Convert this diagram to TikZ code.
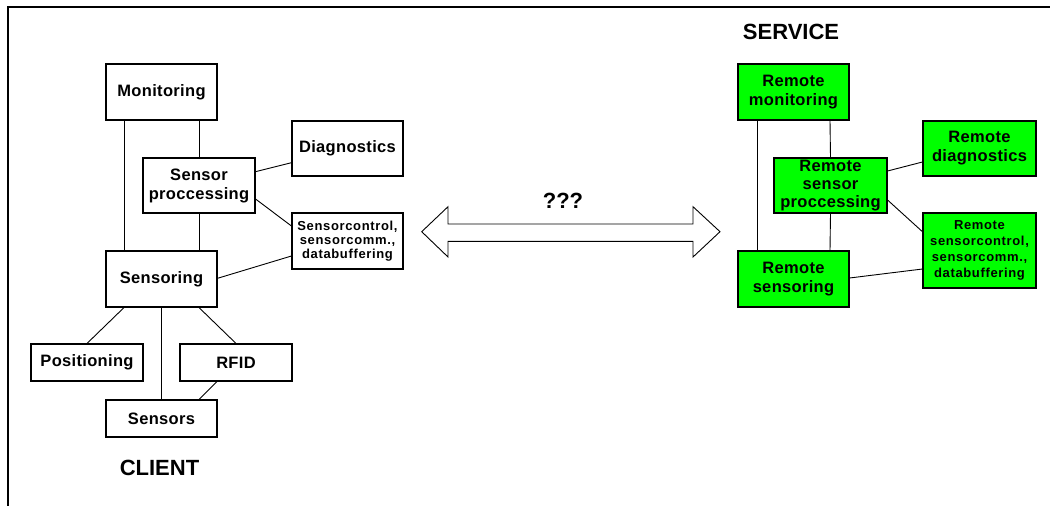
\documentclass[tikz,border=0pt]{standalone}
\usepackage{fontspec}
\setmainfont{Liberation Sans}
\definecolor{boxgreen}{RGB}{0,255,0}
\newcommand{\boxfont}{\bfseries\fontsize{16.5}{19}\selectfont\addfontfeatures{LetterSpace=2}}
\newcommand{\notefont}{\bfseries\fontsize{13}{13.8}\selectfont\addfontfeatures{LetterSpace=5}}
\begin{document}
\begin{tikzpicture}[x=1pt,y=-1pt,
  box/.style={draw=black, line width=1.1pt, fill=white, align=center, inner sep=0pt,
    minimum width=111pt, minimum height=56pt, font=\boxfont},
  smallbox/.style={box, minimum height=37pt},
  tinytext/.style={font=\notefont},
  remote/.style={box, fill=boxgreen},
  link/.style={draw=black, line width=0.9pt},
  title/.style={font=\bfseries\fontsize{22}{26}\selectfont, inner sep=0pt}
]
\useasboundingbox (0,0) rectangle (1050,506);
\fill[white] (0,0) rectangle (1050,506);

% outer frame, open towards the right and the bottom
\draw[line width=2.2pt] (8,515) -- (8,7) -- (1060,7);

% ---------------- client side ----------------
\node[box] (mon)  at (161.5,92)    {Monitoring};
\node[box, minimum width=112pt, minimum height=55pt] (sp) at (199,185.5) {Sensor\\proccessing};
\node[box, minimum height=55pt] (diag) at (347.5,148.5) {Diagnostics};
\node[box, tinytext] (sc) at (347.5,241) {Sensorcontrol,\\sensorcomm.,\\databuffering};
\node[box] (sen)  at (161.5,279)   {Sensoring};
\node[smallbox, minimum width=112pt] (pos)  at (87,362.5)  {Positioning};
\node[smallbox, minimum width=112pt] (rfid) at (236,362.5) {RFID};
\node[smallbox] (sens) at (161.5,418.5) {Sensors};

\node[title] (client) at (159.5,468) {CLIENT};

\draw[link] ([xshift=-37.5pt]mon.south) -- ([xshift=-37.5pt]sen.north);
\draw[link] ([xshift=37.5pt]mon.south) -- (sp.north);
\draw[link] (sp.south) -- ([xshift=37.5pt]sen.north);
\draw[link] ([yshift=13.8pt]sp.east) -- ([yshift=-14.2pt]diag.west);
\draw[link] ([yshift=-13.5pt]sp.east) -- ([yshift=15pt]sc.west);
\draw[link] ([yshift=0.7pt]sen.east) -- ([yshift=-15pt]sc.west);
\draw[link] ([xshift=-37.5pt]sen.south) -- (pos.north);
\draw[link] (sen.south) -- (sens.north);
\draw[link] ([xshift=37.5pt]sen.south) -- (rfid.north);
\draw[link] ([xshift=-19pt]rfid.south) -- ([xshift=37.5pt]sens.north);

% ---------------- link between both sides ----------------
\draw[draw=black, line width=0.9pt, fill=white]
  (421.7,231.7) -- (448,206.7) -- (448,224) -- (693,224) -- (693,206.7)
  -- (720,231.7) -- (693,257) -- (693,241.3) -- (448,241.3) -- (448,257) -- cycle;
\node[title] (q) at (563,200.5) {???};

% ---------------- service side ----------------
\node[title] (service) at (791,32) {SERVICE};

\node[remote] (rmon) at (793.5,92) {Remote\\monitoring};
\node[remote, minimum width=113pt, minimum height=55pt, font=\boxfont\fontsize{16.5}{18.3}\selectfont] (rsp) at (830.5,185.5) {Remote\\sensor\\proccessing};
\node[remote, minimum width=113pt, minimum height=55pt] (rdiag) at (979.5,148.5) {Remote\\diagnostics};
\node[remote, minimum width=113pt, minimum height=75pt, font=\notefont\fontsize{13}{16}\selectfont] (rsc) at (979.5,250.5) {Remote\\sensorcontrol,\\sensorcomm.,\\databuffering};
\node[remote] (rsen) at (793.5,279) {Remote\\sensoring};

\draw[link] ([xshift=-36.5pt]rmon.south) -- ([xshift=-36.5pt]rsen.north);
\draw[link] ([xshift=36.5pt]rmon.south) -- (rsp.north);
\draw[link] (rsp.south) -- ([xshift=36.5pt]rsen.north);
\draw[link] ([yshift=14.5pt]rsp.east) -- ([yshift=-13.5pt]rdiag.west);
\draw[link] ([yshift=-14.5pt]rsp.east) -- ([yshift=18.8pt]rsc.west);
\draw[link] ([yshift=1pt]rsen.east) -- ([yshift=-18.5pt]rsc.west);
\end{tikzpicture}
\end{document}
